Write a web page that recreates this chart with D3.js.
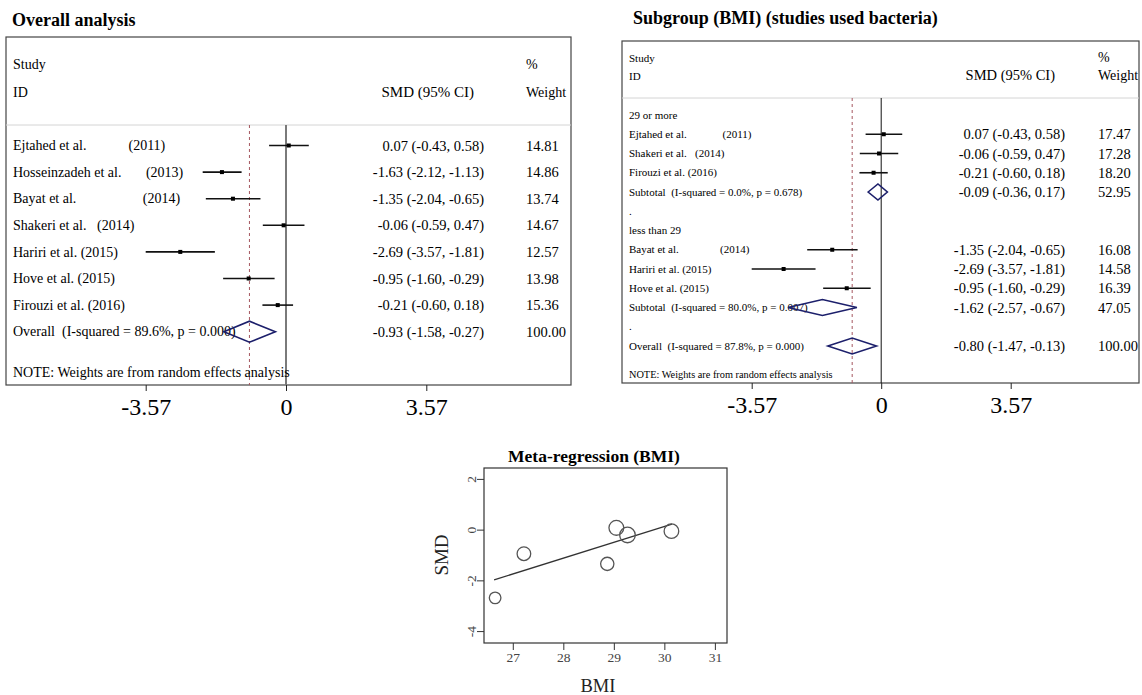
<!DOCTYPE html>
<html>
<head>
<meta charset="utf-8">
<script src="https://cdn.jsdelivr.net/npm/d3@7"></script>
<style>
  body { margin: 0; background: #fff; }
  svg { display: block; font-family: "Liberation Serif", "Times New Roman", serif; }
  text { white-space: pre; }
</style>
</head>
<body>
<svg id="chart" width="1142" height="695"></svg>
<script>
// ---- overall analysis ----
const overallLabels = [
  "Ejtahed et al.            (2011)",
  "Hosseinzadeh et al.       (2013)",
  "Bayat et al.                   (2014)",
  "Shakeri et al.   (2014)",
  "Hariri et al. (2015)",
  "Hove et al. (2015)",
  "Firouzi et al. (2016)"
]
const overallSmd = [0.07, -1.63, -1.35, -0.06, -2.69, -0.95, -0.21]
const overallLo = [-0.43, -2.12, -2.04, -0.59, -3.57, -1.60, -0.60]
const overallHi = [0.58, -1.13, -0.65, 0.47, -1.81, -0.29, 0.18]
const overallWeight = [14.81, 14.86, 13.74, 14.67, 12.57, 13.98, 15.36]
const overallPooled = { label: "Overall  (I-squared = 89.6%, p = 0.000)", smd: -0.93, lo: -1.58, hi: -0.27, w: 100.0 }

// ---- subgroup (BMI) ----
const highLabels = ["Ejtahed et al.             (2011)", "Shakeri et al.   (2014)", "Firouzi et al. (2016)"]
const highSmd = [0.07, -0.06, -0.21]
const highLo = [-0.43, -0.59, -0.60]
const highHi = [0.58, 0.47, 0.18]
const highWeight = [17.47, 17.28, 18.20]
const highSubtotal = { label: "Subtotal  (I-squared = 0.0%, p = 0.678)", smd: -0.09, lo: -0.36, hi: 0.17, w: 52.95 }

const lowLabels = ["Bayat et al.               (2014)", "Hariri et al. (2015)", "Hove et al. (2015)"]
const lowSmd = [-1.35, -2.69, -0.95]
const lowLo = [-2.04, -3.57, -1.60]
const lowHi = [-0.65, -1.81, -0.29]
const lowWeight = [16.08, 14.58, 16.39]
const lowSubtotal = { label: "Subtotal  (I-squared = 80.0%, p = 0.007)", smd: -1.62, lo: -2.57, hi: -0.67, w: 47.05 }
const subgroupOverall = { label: "Overall  (I-squared = 87.8%, p = 0.000)", smd: -0.80, lo: -1.47, hi: -0.13, w: 100.0 }

const forestTicks = [-3.57, 0, 3.57]

// ---- meta-regression ----
const mrBmi = [29.05, 26.65, 28.87, 30.14, 27.22, 29.27]
const mrSmd = [0.07, -2.69, -1.35, -0.06, -0.95, -0.21]
const mrWeight = [14.81, 12.57, 13.74, 14.67, 13.98, 15.36]
const fitBmi = [26.63, 30.15]
const fitSmd = [-1.98, 0.22]
const mrXTicks = [27, 28, 29, 30, 31]
const mrYTicks = [-4, -2, 0, 2]

const svg = d3.select("#chart")
const fmt = v => v.toFixed(2)
const ciText = d => `${fmt(d.smd)} (${fmt(d.lo)}, ${fmt(d.hi)})`

const studyRows = (labels, smd, lo, hi, w) =>
  labels.map((label, i) => ({ type: "study", label, smd: smd[i], lo: lo[i], hi: hi[i], w: w[i] }))

function drawForest(p) {
  const g = svg.append("g")
  const x = d3.scaleLinear().domain([-3.57, 3.57]).range(p.range)

  g.append("text").attr("x", p.titleX).attr("y", p.titleY)
    .attr("font-size", 18).attr("font-weight", "bold").text(p.title)

  g.append("rect").attr("x", p.box[0]).attr("y", p.box[1])
    .attr("width", p.box[2] - p.box[0]).attr("height", p.box[3] - p.box[1])
    .attr("fill", "none").attr("stroke", "#444").attr("stroke-width", 1.2)
  g.append("line").attr("x1", p.box[0]).attr("x2", p.box[2]).attr("y1", p.sep).attr("y2", p.sep)
    .attr("stroke", "#d4d4d4").attr("stroke-width", 1)

  // headers
  const h = p.header
  g.append("text").attr("x", p.labelX).attr("y", h.y1).attr("font-size", h.small).text("Study")
  g.append("text").attr("x", p.labelX).attr("y", h.y2).attr("font-size", h.small).text("ID")
  g.append("text").attr("x", p.ciX - 10).attr("y", h.y2).attr("font-size", h.big).attr("text-anchor", "end").text("SMD (95% CI)")
  g.append("text").attr("x", p.wX).attr("y", h.y1).attr("font-size", 14).text("%")
  g.append("text").attr("x", p.wX).attr("y", h.y2).attr("font-size", 14).text("Weight")

  // reference lines
  g.append("line").attr("x1", x(0)).attr("x2", x(0)).attr("y1", p.sep).attr("y2", p.box[3])
    .attr("stroke", p.zeroColor).attr("stroke-width", p.zeroWidth)
  g.append("line").attr("x1", x(p.pooled)).attr("x2", x(p.pooled)).attr("y1", p.sep).attr("y2", p.box[3])
    .attr("stroke", "#a5575f").attr("stroke-width", 1).attr("stroke-dasharray", "3,3")

  const rowY = i => p.rowStart + i * p.rowStep

  const rows = g.selectAll("g.row").data(p.rows).enter().append("g")
    .attr("class", "row").attr("transform", (d, i) => `translate(0,${rowY(i)})`)

  rows.append("text").attr("x", p.labelX).attr("y", p.labelSize * 0.33)
    .attr("font-size", p.labelSize).text(d => d.label)

  const st = rows.filter(d => d.type === "study")
  st.append("line").attr("x1", d => x(d.lo)).attr("x2", d => x(d.hi))
    .attr("stroke", "#111").attr("stroke-width", 1.6)
  st.append("rect").attr("x", d => x(d.smd) - 2).attr("y", -2).attr("width", 4).attr("height", 4).attr("fill", "#000")

  const dm = rows.filter(d => d.type === "diamond")
  dm.append("path")
    .attr("d", d => `M${x(d.lo)},0L${x(d.smd)},${-p.diamondH}L${x(d.hi)},0L${x(d.smd)},${p.diamondH}Z`)
    .attr("fill", "none").attr("stroke", "#1c1f6b").attr("stroke-width", 1.6)

  const num = rows.filter(d => d.type === "study" || d.type === "diamond")
  num.append("text").attr("x", p.ciX).attr("y", 5).attr("font-size", 14.5)
    .attr("text-anchor", "end").text(ciText)
  num.append("text").attr("x", p.wX).attr("y", 5).attr("font-size", 14.5).text(d => fmt(d.w))

  g.append("text").attr("x", p.labelX).attr("y", p.noteY).attr("font-size", p.noteSize)
    .text("NOTE: Weights are from random effects analysis")

  const axis = g.append("g").attr("transform", `translate(0,${p.box[3]})`)
    .call(d3.axisBottom(x).tickValues(forestTicks).tickSize(6).tickPadding(7)
      .tickFormat(d => d === 0 ? "0" : d.toFixed(2)))
  axis.select(".domain").remove()
  axis.selectAll("text").attr("font-size", 24).attr("font-family", "Liberation Serif").attr("fill", "#000")
  axis.selectAll("line").attr("stroke", "#222")
}

// left panel
drawForest({
  title: "Overall analysis", titleX: 12, titleY: 26,
  box: [6, 37, 571, 385], sep: 125, range: [145.7, 426.3],
  header: { y1: 69, y2: 97, small: 14, big: 15 },
  labelX: 13, labelSize: 14, ciX: 484, wX: 526,
  rowStart: 145.5, rowStep: 26.6, diamondH: 10.5,
  zeroColor: "#7a7a7a", zeroWidth: 2, pooled: overallPooled.smd,
  noteY: 377, noteSize: 14,
  rows: [
    ...studyRows(overallLabels, overallSmd, overallLo, overallHi, overallWeight),
    { type: "diamond", ...overallPooled }
  ]
})

// right panel
drawForest({
  title: "Subgroup (BMI) (studies used bacteria)", titleX: 633, titleY: 24,
  box: [622, 41, 1139, 383], sep: 98, range: [751.7, 1010.7],
  header: { y1: 62, y2: 80, small: 11, big: 14.5 },
  labelX: 629, labelSize: 11, ciX: 1065, wX: 1098,
  rowStart: 115, rowStep: 19.25, diamondH: 8,
  zeroColor: "#111", zeroWidth: 1, pooled: subgroupOverall.smd,
  noteY: 378, noteSize: 10.3,
  rows: [
    { type: "group", label: "29 or more" },
    ...studyRows(highLabels, highSmd, highLo, highHi, highWeight),
    { type: "diamond", ...highSubtotal },
    { type: "group", label: "." },
    { type: "group", label: "less than 29" },
    ...studyRows(lowLabels, lowSmd, lowLo, lowHi, lowWeight),
    { type: "diamond", ...lowSubtotal },
    { type: "group", label: "." },
    { type: "diamond", ...subgroupOverall }
  ]
})

// ---- meta-regression panel ----
const mr = svg.append("g")
const mx = d3.scaleLinear().domain([26.43, 31.24]).range([484, 727])
const my = d3.scaleLinear().domain([-4.47, 2.43]).range([643, 468])
const rScale = d3.scaleLinear().domain([12.57, 15.36]).range([5.8, 7.8])

mr.append("text").attr("x", 594).attr("y", 462).attr("text-anchor", "middle")
  .attr("font-size", 17.5).attr("font-weight", "bold").text("Meta-regression (BMI)")

const xAx = mr.append("g").attr("transform", "translate(0,643)")
  .call(d3.axisBottom(mx).tickValues(mrXTicks).tickSize(7).tickPadding(2).tickFormat(d => String(d)))
const yAx = mr.append("g").attr("transform", "translate(484,0)")
  .call(d3.axisLeft(my).tickValues(mrYTicks).tickSize(7).tickFormat(d => String(d)))
;[xAx, yAx].forEach(a => {
  a.select(".domain").remove()
  a.selectAll("line").attr("stroke", "#333")
  a.selectAll("text").attr("font-size", 13.5).attr("font-family", "Liberation Serif").attr("fill", "#444")
})
yAx.selectAll("text").attr("x", 0).attr("y", -8).attr("dy", 0)
  .attr("text-anchor", "middle").attr("transform", "rotate(-90)")

mr.append("rect").attr("x", 484).attr("y", 468).attr("width", 243).attr("height", 175)
  .attr("fill", "none").attr("stroke", "#333").attr("stroke-width", 1.2)

mr.append("path")
  .datum(fitBmi.map((b, i) => [b, fitSmd[i]]))
  .attr("d", d3.line().x(d => mx(d[0])).y(d => my(d[1])))
  .attr("stroke", "#333").attr("stroke-width", 1.3).attr("fill", "none")

mr.selectAll("circle.pt").data(mrBmi).enter().append("circle")
  .attr("class", "pt")
  .attr("cx", d => mx(d)).attr("cy", (d, i) => my(mrSmd[i])).attr("r", (d, i) => rScale(mrWeight[i]))
  .attr("fill", "none").attr("stroke", "#555").attr("stroke-width", 1.3)

mr.append("text").attr("x", 598).attr("y", 692).attr("text-anchor", "middle")
  .attr("font-size", 18.5).attr("fill", "#222").text("BMI")
mr.append("text").attr("transform", "translate(448,555) rotate(-90)").attr("text-anchor", "middle")
  .attr("font-size", 19).attr("fill", "#222").text("SMD")
</script>
</body>
</html>
